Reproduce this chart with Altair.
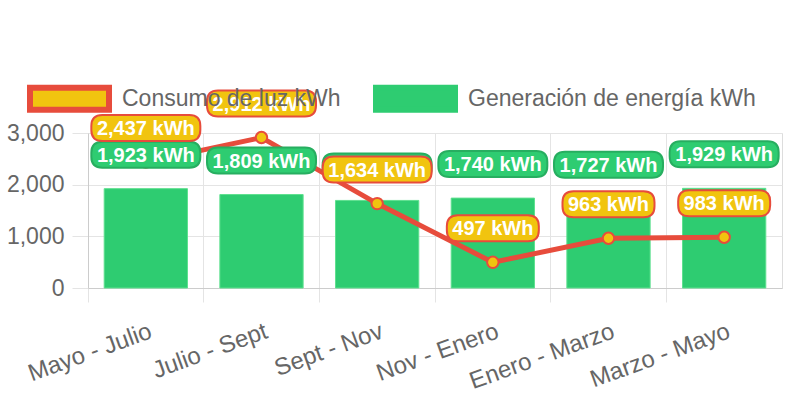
import altair as alt
import pandas as pd

periods = ["Mayo - Julio", "Julio - Sept", "Sept - Nov", "Nov - Enero", "Enero - Marzo", "Marzo - Mayo"]
consumo = [2437, 2912, 1634, 497, 963, 983]
generacion = [1923, 1809, 1695, 1740, 1727, 1929]
series_names = ["Consumo de luz kWh", "Generación de energía kWh"]
y_ticks = [0, 1000, 2000, 3000]

YELLOW = "#f1c40f"
RED = "#e74c3c"
GREEN = "#2ecc71"
DKGREEN = "#27ae60"
GRAY = "#666666"
GRID = "#e4e4e4"
FONT = "Liberation Sans"

df = pd.DataFrame({
    "periodo": periods * 2,
    "serie": [series_names[0]] * len(periods) + [series_names[1]] * len(periods),
    "valor": consumo + generacion,
})


def pill(w, h, r):
    s = w / 2.0
    hw = 1.0
    hh = h / 2.0 / s
    rr = r / s
    f = lambda v: f"{v:.4f}"
    return (
        f"M{f(-hw + rr)},{f(-hh)}L{f(hw - rr)},{f(-hh)}Q{f(hw)},{f(-hh)} {f(hw)},{f(-hh + rr)}"
        f"L{f(hw)},{f(hh - rr)}Q{f(hw)},{f(hh)} {f(hw - rr)},{f(hh)}"
        f"L{f(-hw + rr)},{f(hh)}Q{f(-hw)},{f(hh)} {f(-hw)},{f(hh - rr)}"
        f"L{f(-hw)},{f(-hh + rr)}Q{f(-hw)},{f(-hh)} {f(-hw + rr)},{f(-hh)}Z"
    )


LONG_W, SHORT_W, BOX_H, BOX_R = 109, 92, 26, 11
long_path = pill(LONG_W, BOX_H, BOX_R)
short_path = pill(SHORT_W, BOX_H, BOX_R)

SYM_W, SYM_H = 79, 22
sym_half = SYM_H / SYM_W
legend_path = f"M-1,{-sym_half:.4f}L1,{-sym_half:.4f}L1,{sym_half:.4f}L-1,{sym_half:.4f}Z"

fill_scale = alt.Scale(domain=series_names, range=[YELLOW, GREEN])
stroke_scale = alt.Scale(domain=series_names, range=[RED, GREEN])

legend = alt.Legend(
    title=None,
    orient="none",
    legendX=-61,
    legendY=-77,
    direction="horizontal",
    symbolType=legend_path,
    symbolSize=SYM_W * SYM_W,
    symbolStrokeWidth=6,
    symbolOpacity=1,
    labelFontSize=23,
    labelColor=GRAY,
    labelFont=FONT,
    labelOffset=10,
    labelLimit=0,
    columnPadding=23,
    padding=0,
)

x_enc = alt.X(
    "periodo:N",
    sort=periods,
    scale=alt.Scale(paddingInner=0, paddingOuter=0),
    axis=alt.Axis(
        title=None,
        labelAngle=-20,
        labelAlign="right",
        labelBaseline="top",
        labelFontSize=24,
        labelColor=GRAY,
        labelFont=FONT,
        labelPadding=17,
        labelOffset=1,
        grid=True,
        gridColor=GRID,
        bandPosition=0,
        tickSize=14,
        tickColor=GRID,
        domainColor="#cccccc",
    ),
)
y_enc = alt.Y(
    "valor:Q",
    scale=alt.Scale(domain=[0, 3000], nice=False),
    axis=alt.Axis(
        title=None,
        values=y_ticks,
        format=",.0f",
        labelFontSize=23,
        labelColor=GRAY,
        labelFont=FONT,
        labelPadding=8,
        gridColor=GRID,
        tickColor=GRID,
        tickSize=16,
        domainColor="#cccccc",
    ),
)

base = alt.Chart(df).transform_calculate(
    label="format(datum.valor, ',') + ' kWh'"
)
gen = base.transform_filter(alt.datum.serie == series_names[1])
con = base.transform_filter(alt.datum.serie == series_names[0])

bars = gen.mark_bar(width=alt.RelativeBandSize(0.72), stroke="#5ee08f", strokeWidth=1).encode(
    x=x_enc, y=y_enc, fill=alt.Fill("serie:N", scale=fill_scale, legend=legend)
)
line = con.mark_line(strokeWidth=5).encode(
    x=x_enc, y=y_enc, stroke=alt.Stroke("serie:N", scale=stroke_scale, legend=legend)
)
points = con.mark_point(shape="circle", size=130, strokeWidth=2, filled=True, opacity=1).encode(
    x=x_enc, y=y_enc,
    fill=alt.Fill("serie:N", scale=fill_scale, legend=legend),
    stroke=alt.Stroke("serie:N", scale=stroke_scale, legend=legend),
)

OFF = -34


def boxes(src, fill, stroke):
    wide = src.transform_filter(alt.datum.valor >= 1000).mark_point(
        shape=long_path, size=LONG_W * LONG_W, filled=True, fill=fill, stroke=stroke,
        strokeWidth=2, opacity=1, yOffset=OFF,
    ).encode(x=x_enc, y=y_enc)
    narrow = src.transform_filter(alt.datum.valor < 1000).mark_point(
        shape=short_path, size=SHORT_W * SHORT_W, filled=True, fill=fill, stroke=stroke,
        strokeWidth=2, opacity=1, yOffset=OFF,
    ).encode(x=x_enc, y=y_enc)
    txt = src.mark_text(
        font=FONT, fontSize=20, fontWeight="bold", color="white",
        baseline="middle", dy=OFF + 1,
    ).encode(x=x_enc, y=y_enc, text="label:N")
    return [wide, narrow, txt]


layers = [bars, line, points] + boxes(gen, GREEN, DKGREEN) + boxes(con, YELLOW, RED)

chart = alt.layer(*layers).properties(
    width=694,
    height=155,
    autosize=alt.AutoSizeParams(type="none"),
    padding={"left": 88, "top": 133, "right": 10, "bottom": 108},
).configure_view(stroke=GRID).configure(font=FONT)

chart.save("out.html", embed_options={"renderer": "svg", "actions": False})
